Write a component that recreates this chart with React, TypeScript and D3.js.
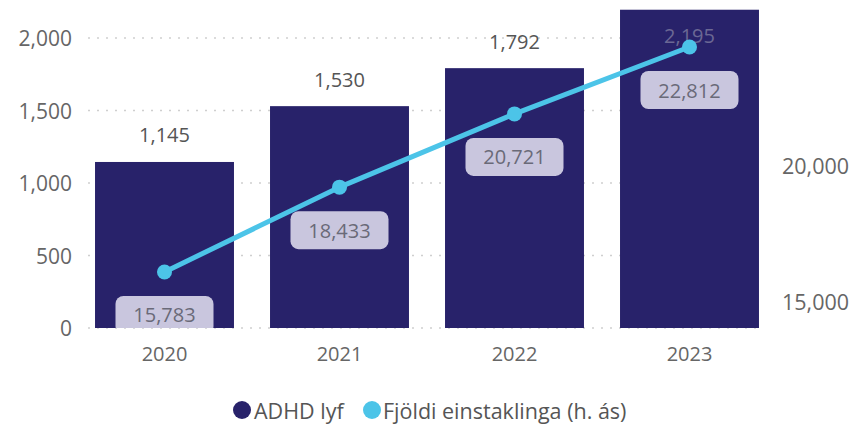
import React from "react";
import * as d3 from "d3";

const years = ["2020", "2021", "2022", "2023"];
const adhdLyf = [1145, 1530, 1792, 2195];
const einstaklingar = [15783, 18433, 20721, 22812];
const leftTicks = [0, 500, 1000, 1500, 2000];
const rightTicks = [15000, 20000];
const legendLabels = ["ADHD lyf", "Fjöldi einstaklinga (h. ás)"];

const W = 856;
const H = 426;
const NAVY = "#28226a";
const CYAN = "#4cc4e8";
const FONT = "'Open Sans', 'Noto Sans', sans-serif";
const fmt = d3.format(",");

export default function App() {
  const x = d3.scaleBand<string>().domain(years).range([77, 777]).paddingInner(0.206).paddingOuter(0.103);
  const y = d3.scaleLinear().domain([0, 2000]).range([328, 38]);
  const yR = d3.scaleLinear().domain([15000, 20000]).range([297, 137]);
  const yRAxis = d3.scaleLinear().domain([15000, 20000]).range([301, 165]);
  const bw = x.bandwidth();
  const cx = (d: string) => (x(d) as number) + bw / 2;

  const line = d3
    .line<number>()
    .x((_, i) => cx(years[i]))
    .y((d) => yR(d));

  const gridEnd = (x(years[years.length - 1]) as number) + bw;

  return (
    <svg
      width={W}
      height={H}
      style={{ position: "absolute", left: 0, top: 0, background: "#fff" }}
      fontFamily={FONT}
    >
      {/* gridlines */}
      {leftTicks.map((t) => (
        <line
          key={"g" + t}
          x1={88}
          x2={gridEnd}
          y1={y(t)}
          y2={y(t)}
          stroke="#cfcfcf"
          strokeWidth={1.5}
          strokeDasharray="2,7"
        />
      ))}
      {/* left axis labels */}
      {leftTicks.map((t) => (
        <text
          key={"l" + t}
          x={72}
          y={y(t)}
          textAnchor="end"
          dominantBaseline="central"
          fontSize={21}
          fill="#666"
        >
          {fmt(t)}
        </text>
      ))}
      {/* right axis labels */}
      {rightTicks.map((t) => (
        <text
          key={"r" + t}
          x={782}
          y={yRAxis(t)}
          textAnchor="start"
          dominantBaseline="central"
          fontSize={21.5}
          fill="#666"
        >
          {fmt(t)}
        </text>
      ))}
      {/* bars */}
      {years.map((yr, i) => (
        <rect
          key={"b" + yr}
          x={x(yr)}
          y={y(adhdLyf[i])}
          width={bw}
          height={y(0) - y(adhdLyf[i])}
          fill={NAVY}
        />
      ))}
      {/* bar labels */}
      {years.map((yr, i) => {
        const top = y(adhdLyf[i]);
        const inside = top - 27 < 20;
        return (
          <text
            key={"bl" + yr}
            x={cx(yr)}
            y={inside ? top + 26 : top - 27}
            textAnchor="middle"
            dominantBaseline="central"
            fontSize={20}
            fill={inside ? "#6b6894" : "#555"}
          >
            {fmt(adhdLyf[i])}
          </text>
        );
      })}
      {/* x labels */}
      {years.map((yr) => (
        <text
          key={"x" + yr}
          x={cx(yr)}
          y={353}
          textAnchor="middle"
          dominantBaseline="central"
          fontSize={20}
          fill="#666"
        >
          {yr}
        </text>
      ))}
      {/* line */}
      <path d={line(einstaklingar) || ""} fill="none" stroke={CYAN} strokeWidth={5} strokeLinejoin="round" />
      {einstaklingar.map((v, i) => (
        <circle key={"p" + i} cx={cx(years[i])} cy={yR(v)} r={7.5} fill={CYAN} />
      ))}
      {/* line labels */}
      <defs>
        <clipPath id="plotclip">
          <rect x={0} y={0} width={W} height={y(0)} />
        </clipPath>
      </defs>
      <g clipPath="url(#plotclip)">
        {einstaklingar.map((v, i) => {
          const py = yR(v) + 43;
          return (
            <g key={"ll" + i}>
              <rect x={cx(years[i]) - 49} y={py - 19} width={98} height={38} rx={8} fill="#c9c6de" />
              <text
                x={cx(years[i])}
                y={py}
                textAnchor="middle"
                dominantBaseline="central"
                fontSize={20}
                fill="#6a6a78"
              >
                {fmt(v)}
              </text>
            </g>
          );
        })}
      </g>
      {/* legend */}
      <circle cx={242} cy={410} r={9} fill={NAVY} />
      <text x={254} y={410} dominantBaseline="central" fontSize={21.5} fill="#555">
        {legendLabels[0]}
      </text>
      <circle cx={372} cy={410} r={9} fill={CYAN} />
      <text x={383} y={410} dominantBaseline="central" fontSize={21.5} fill="#555">
        {legendLabels[1]}
      </text>
    </svg>
  );
}
